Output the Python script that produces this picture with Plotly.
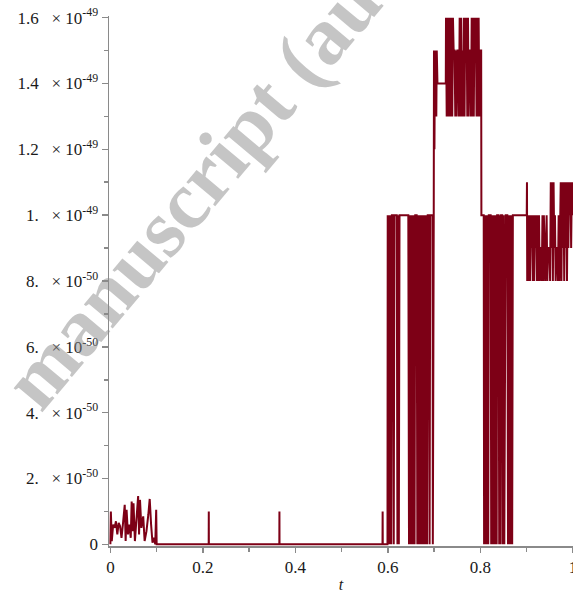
import plotly.graph_objects as go

# values are in units of 1e-50
# segment 1: noisy start (t = 0 .. 0.1)
t_start = [0.0, 0.001, 0.003, 0.006, 0.009, 0.012, 0.015, 0.018, 0.021, 0.024, 0.027,
           0.031, 0.033, 0.035, 0.038, 0.041, 0.044, 0.046, 0.048, 0.050, 0.053, 0.056,
           0.060, 0.062, 0.064, 0.067, 0.071, 0.074, 0.078, 0.082, 0.085, 0.088, 0.091,
           0.094, 0.097, 0.099, 0.100]
v_start = [0.0, 1.0, 0.1, 0.6, 0.5, 0.7, 0.3, 0.65, 0.55, 0.2, 0.6,
           1.2, 0.1, 1.05, 0.3, 0.6, 0.2, 1.3, 0.4, 1.25, 0.1, 0.8,
           1.47, 0.3, 1.35, 0.5, 0.85, 0.1, 0.4, 0.9, 1.38, 0.6, 0.05,
           0.2, 0.0, 1.05, 0.0]

# segment 2: zero with isolated spikes (t = 0.1 .. 0.6)
t_flat = [0.2125, 0.2127, 0.2129, 0.3652, 0.3654, 0.3656, 0.5882, 0.5885, 0.5888, 0.599]
v_flat = [0, 1.0, 0, 0, 1.0, 0, 0, 1.0, 0, 0]

# segment 3: level 10 with dips to 0 (t = 0.6 .. 0.7)
t_mid1 = [0.5995, 0.601, 0.6025, 0.604, 0.6055, 0.607, 0.6085,
          0.611, 0.6125, 0.614,
          0.619, 0.6205, 0.622, 0.6235, 0.625,
          0.644, 0.6455, 0.647, 0.6485, 0.650, 0.6515, 0.653, 0.6545, 0.656, 0.6575, 0.659,
          0.662, 0.6635, 0.665, 0.6665, 0.668, 0.6695, 0.671, 0.6725, 0.674, 0.6755, 0.677,
          0.6785, 0.680, 0.6815, 0.683, 0.6845, 0.686,
          0.6885, 0.690, 0.6915,
          0.6965, 0.697, 0.6975, 0.699]
v_mid1 = [10, 0, 10, 0, 10, 0, 10,
          10, 0, 10,
          10, 0, 10, 0, 10,
          10, 0, 10, 0, 10, 0, 10, 0, 10, 0, 10,
          10, 0, 10, 0, 10, 0, 10, 0, 10, 0, 10,
          0, 10, 0, 10, 0, 10,
          10, 0, 10,
          10, 0, 10, 10]

# segment 4: high plateau (t = 0.7 .. 0.8)
t_high = [0.6995, 0.7005, 0.7015, 0.7025, 0.7035, 0.7045, 0.7055, 0.707, 0.725,
          0.7255, 0.727, 0.7285, 0.730, 0.7315, 0.733, 0.7345, 0.736, 0.7375, 0.739, 0.7405,
          0.742, 0.744, 0.7455, 0.747, 0.7485, 0.750, 0.752, 0.7535, 0.755, 0.7565, 0.758,
          0.7595, 0.761, 0.7625, 0.764, 0.7655, 0.767, 0.7685, 0.770, 0.7715, 0.773, 0.7745,
          0.776, 0.778, 0.7795, 0.781, 0.7825, 0.784, 0.7855, 0.787, 0.7885, 0.790, 0.7915,
          0.793, 0.7945, 0.796, 0.7975, 0.799, 0.8015, 0.802]
v_high = [15, 12, 15, 13, 15, 13, 15, 14, 14,
          16, 13, 16, 13, 16, 13, 16, 13, 16, 13, 16,
          15, 15, 13, 15, 13, 15, 15, 13, 16, 13, 16,
          13, 15, 13, 16, 13, 16, 15, 16, 13, 16, 13,
          15, 15, 13, 16, 13, 16, 13, 16, 15, 16, 13,
          16, 13, 16, 13, 15, 15, 10]

# segment 5: level 10 with dips to 0 (t = 0.8 .. 0.9)
t_mid2 = [0.807, 0.8078, 0.8093, 0.8108, 0.8123, 0.8138, 0.8153, 0.8168, 0.818,
          0.822, 0.8232, 0.8247, 0.8262, 0.8277, 0.8292, 0.8307, 0.8322, 0.8337, 0.835, 0.836,
          0.839, 0.8405, 0.842, 0.8435, 0.8445,
          0.847, 0.8485, 0.850, 0.8515, 0.853, 0.8545,
          0.858, 0.8595, 0.861, 0.8625, 0.864, 0.8655, 0.867, 0.8685, 0.870,
          0.900]
v_mid2 = [10, 0, 10, 0, 10, 0, 10, 0, 10,
          10, 0, 10, 0, 10, 0, 10, 0, 10, 0, 10,
          10, 0, 10, 0, 10,
          10, 0, 10, 0, 10, 10,
          10, 0, 10, 0, 10, 0, 10, 0, 10,
          10]

# segment 6: oscillation around 9-10 (t = 0.9 .. 1.0)
t_end = [0.9005, 0.901, 0.9025, 0.904, 0.9055, 0.907, 0.9085, 0.910, 0.9115, 0.913, 0.9145,
         0.916, 0.9175, 0.919, 0.9205, 0.922, 0.9235, 0.925, 0.9265, 0.928, 0.9295, 0.931,
         0.9325, 0.934, 0.9355, 0.937, 0.9385, 0.940, 0.9415, 0.943, 0.9445, 0.946, 0.949,
         0.9505, 0.952, 0.9535, 0.955, 0.9565, 0.958, 0.9595, 0.961, 0.9625, 0.964, 0.966,
         0.9675, 0.969, 0.9705, 0.972, 0.9735, 0.975, 0.9765, 0.978, 0.9795, 0.981, 0.9825,
         0.984, 0.9855, 0.987, 0.9885, 0.990, 0.9915, 0.993, 0.9945, 0.996, 0.9975, 0.999, 1.0]
v_end = [11, 8, 10, 8, 10, 8, 10, 9, 10, 8, 10,
         8, 10, 9, 10, 8, 10, 8, 10, 8, 9, 9,
         8, 10, 8, 10, 9, 8, 9, 10, 8, 9, 9,
         8, 11, 9, 11, 8, 11, 9, 10, 8, 9, 9,
         8, 10, 8, 9, 11, 8, 11, 9, 11, 8, 11,
         9, 11, 8, 11, 9, 11, 10, 11, 9, 11, 10, 11]

t_all = t_start + t_flat + t_mid1 + t_high + t_mid2 + t_end
v_all = v_start + v_flat + v_mid1 + v_high + v_mid2 + v_end

SP = "\u2002 "  # wide gap after the mantissa, as in the reference
y_tickvals = [0, 2, 4, 6, 8, 10, 12, 14, 16]
y_ticktext = ["0",
              "2." + SP + "× 10<sup>-50</sup>", "4." + SP + "× 10<sup>-50</sup>",
              "6." + SP + "× 10<sup>-50</sup>", "8." + SP + "× 10<sup>-50</sup>",
              "1." + SP + "× 10<sup>-49</sup>", "1.2" + SP + "× 10<sup>-49</sup>",
              "1.4" + SP + "× 10<sup>-49</sup>", "1.6" + SP + "× 10<sup>-49</sup>"]
x_tickvals = [0, 0.2, 0.4, 0.6, 0.8, 1.0]
x_ticktext = ["0", "0.2", "0.4", "0.6", "0.8", "1"]

LINE = "rgb(125,0,22)"
AXIS = "#8a8a8a"
FONT = "Liberation Serif"

fig = go.Figure()
fig.add_trace(go.Scatter(x=t_all, y=v_all, mode="lines",
                         line=dict(color=LINE, width=2), hoverinfo="skip"))

fig.update_layout(
    width=573, height=593,
    margin=dict(l=109, r=0, t=16, b=47),
    paper_bgcolor="white", plot_bgcolor="white",
    showlegend=False,
    font=dict(family=FONT, size=17, color="#1a1a1a"),
)
fig.update_xaxes(
    automargin=False, ticklabeloverflow="allow",
    range=[-0.003, 1.0], tickvals=x_tickvals, ticktext=x_ticktext,
    showgrid=False, zeroline=False, showline=True, linecolor=AXIS, linewidth=1.5,
    ticks="outside", ticklen=5, tickcolor=AXIS, tickwidth=1.5,
    minor=dict(ticks="outside", ticklen=4, tickcolor=AXIS, tickwidth=1.5,
               tickvals=[0.1, 0.3, 0.5, 0.7, 0.9]),
    tickfont=dict(family=FONT, size=17),
    title=dict(text="<i>t</i>", font=dict(family=FONT, size=16), standoff=5),
)
fig.update_yaxes(
    automargin=False, ticklabeloverflow="allow",
    range=[-0.05, 16.05], tickvals=y_tickvals, ticktext=y_ticktext,
    showgrid=False, zeroline=False, showline=True, linecolor=AXIS, linewidth=1.5,
    ticks="outside", ticklen=6, tickcolor=AXIS, tickwidth=1.5,
    minor=dict(ticks="outside", ticklen=4, tickcolor=AXIS, tickwidth=1.5,
               tickvals=[1, 3, 5, 7, 9, 11, 13, 15]),
    tickfont=dict(family=FONT, size=17),
)

# watermark
fig.add_annotation(
    text="<b>manuscript (aut</b>", xref="paper", yref="paper",
    x=0.198, y=0.69, xanchor="center", yanchor="middle", showarrow=False,
    textangle=-50, font=dict(family=FONT, size=82, color="rgba(140,140,140,0.5)"),
)

fig.write_html(
    "out.html",
    config={"displayModeBar": False, "staticPlot": True},
    post_script="document.body.style.margin='0';document.body.style.overflow='hidden';",
)
